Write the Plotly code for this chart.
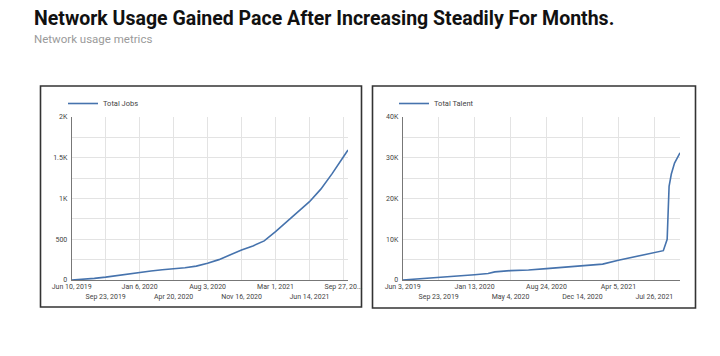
import plotly.graph_objects as go

# ---- data ----
jobs_dates = ["2019-06-10", "2019-07-15", "2019-08-19", "2019-09-23", "2019-10-28", "2019-12-02",
              "2020-01-06", "2020-02-10", "2020-03-16", "2020-04-20", "2020-05-25", "2020-06-29",
              "2020-08-03", "2020-09-07", "2020-10-12", "2020-11-16", "2020-12-21", "2021-01-25",
              "2021-03-01", "2021-04-05", "2021-05-10", "2021-06-14", "2021-07-19", "2021-08-23",
              "2021-09-27", "2021-10-11"]
jobs_values = [0, 8, 20, 35, 55, 75, 88, 110, 125, 135, 150, 170,
               205, 250, 310, 368, 418, 480, 593, 715, 838, 961, 1115, 1305, 1513, 1595]

talent_dates = ["2019-06-03", "2019-07-22", "2019-09-23", "2019-11-18", "2020-01-13", "2020-02-24",
                "2020-03-16", "2020-05-04", "2020-06-29", "2020-08-24", "2020-10-19", "2020-12-14",
                "2021-02-15", "2021-04-05", "2021-05-31", "2021-07-26", "2021-08-23", "2021-09-04",
                "2021-09-10", "2021-09-17", "2021-09-27", "2021-10-14"]
talent_values = [0, 250, 600, 950, 1300, 1600, 2000, 2300, 2450, 2800, 3150, 3500,
                 3900, 4850, 5800, 6650, 7200, 10000, 23000, 26000, 28700, 31200]

jobs_tickvals = ["2019-06-10", "2019-09-23", "2020-01-06", "2020-04-20", "2020-08-03",
                 "2020-11-16", "2021-03-01", "2021-06-14", "2021-09-27"]
jobs_ticktext = ["Jun 10, 2019", "<br>Sep 23, 2019", "Jan 6, 2020", "<br>Apr 20, 2020", "Aug 3, 2020",
                 "<br>Nov 16, 2020", "Mar 1, 2021", "<br>Jun 14, 2021", "Sep 27, 20..."]
talent_tickvals = ["2019-06-03", "2019-09-23", "2020-01-13", "2020-05-04", "2020-08-24",
                   "2020-12-14", "2021-04-05", "2021-07-26"]
talent_ticktext = ["Jun 3, 2019", "<br>Sep 23, 2019", "Jan 13, 2020", "<br>May 4, 2020", "Aug 24, 2020",
                   "<br>Dec 14, 2020", "Apr 5, 2021", "<br>Jul 26, 2021"]

jobs_yticks = [0, 500, 1000, 1500, 2000]
jobs_ylabels = ["0", "500", "1K", "1.5K", "2K"]
talent_yticks = [0, 10000, 20000, 30000, 40000]
talent_ylabels = ["0", "10K", "20K", "30K", "40K"]

W, H = 720, 356
LINE = "#4673ad"
GRID = "#e3e3e3"
AXIS = "#777777"
TICKFONT = dict(family="Roboto, Arial, sans-serif", size=7, color="#444444")

fig = go.Figure()
fig.add_trace(go.Scatter(x=jobs_dates, y=jobs_values, mode="lines", name="Total Jobs",
                         line=dict(color=LINE, width=1.6), xaxis="x", yaxis="y", legend="legend"))
fig.add_trace(go.Scatter(x=talent_dates, y=talent_values, mode="lines", name="Total Talent",
                         line=dict(color=LINE, width=1.6), xaxis="x2", yaxis="y2", legend="legend2"))

def px_x(v):
    return v / W

def px_y(v):
    return 1 - v / H

ydom = [px_y(280), px_y(117)]

xcommon = dict(type="date", showgrid=True, gridcolor=GRID, gridwidth=1, showline=True,
               linecolor=AXIS, linewidth=1, tickfont=TICKFONT, ticks="", zeroline=False,
               tickmode="array", fixedrange=True, ticklabelstandoff=0, tickangle=0,
               automargin=False)
ycommon = dict(showgrid=True, gridcolor=GRID, gridwidth=1, showline=True, linecolor=AXIS,
               linewidth=1, tickfont=TICKFONT, ticks="", zeroline=False, tickmode="array",
               domain=ydom, ticklabelstandoff=2, automargin=False, fixedrange=True)

fig.update_layout(
    width=W, height=H,
    margin=dict(l=0, r=0, t=0, b=0, autoexpand=False),
    paper_bgcolor="white", plot_bgcolor="white",
    xaxis=dict(xcommon, domain=[px_x(71.7), px_x(348)], range=["2019-06-10", "2021-10-11"],
               tickvals=jobs_tickvals, ticktext=jobs_ticktext, anchor="y"),
    yaxis=dict(ycommon, range=[0, 2000], tickvals=jobs_yticks, ticktext=jobs_ylabels, anchor="x",
               minor=dict(dtick=250, showgrid=True, gridcolor=GRID, ticks="")),
    xaxis2=dict(xcommon, domain=[px_x(402.7), px_x(680)], range=["2019-06-03", "2021-10-14"],
                tickvals=talent_tickvals, ticktext=talent_ticktext, anchor="y2"),
    yaxis2=dict(ycommon, range=[0, 40000], tickvals=talent_yticks, ticktext=talent_ylabels, anchor="x2",
                minor=dict(dtick=5000, showgrid=True, gridcolor=GRID, ticks="")),
    showlegend=True,
    legend=dict(x=px_x(63), y=px_y(89), xanchor="left", yanchor="top", bgcolor="rgba(0,0,0,0)",
                font=dict(family="Roboto, Arial, sans-serif", size=7.5, color="#444444")),
    legend2=dict(x=px_x(394), y=px_y(89), xanchor="left", yanchor="top", bgcolor="rgba(0,0,0,0)",
                 font=dict(family="Roboto, Arial, sans-serif", size=7.5, color="#444444")),
    shapes=[
        dict(type="rect", xref="paper", yref="paper", x0=px_x(40.5), x1=px_x(361.5),
             y0=px_y(307), y1=px_y(86), line=dict(color="#333333", width=1.6)),
        dict(type="rect", xref="paper", yref="paper", x0=px_x(372.5), x1=px_x(695.5),
             y0=px_y(308), y1=px_y(86), line=dict(color="#333333", width=1.6)),
    ],
    annotations=[
        dict(text="<b>Network Usage Gained Pace After Increasing Steadily For Months.</b>",
             xref="paper", yref="paper", x=px_x(32), y=px_y(19), xanchor="left", yanchor="middle",
             showarrow=False, font=dict(family="Roboto, Arial, sans-serif", size=19.5, color="#111111")),
        dict(text="Network usage metrics", xref="paper", yref="paper", x=px_x(32), y=px_y(39),
             xanchor="left", yanchor="middle", showarrow=False,
             font=dict(family="Roboto, Arial, sans-serif", size=11.5, color="#9a9a9a")),
    ],
)

fig.write_html("out.html", config={"displayModeBar": False},
               post_script="document.body.style.margin='0';")
